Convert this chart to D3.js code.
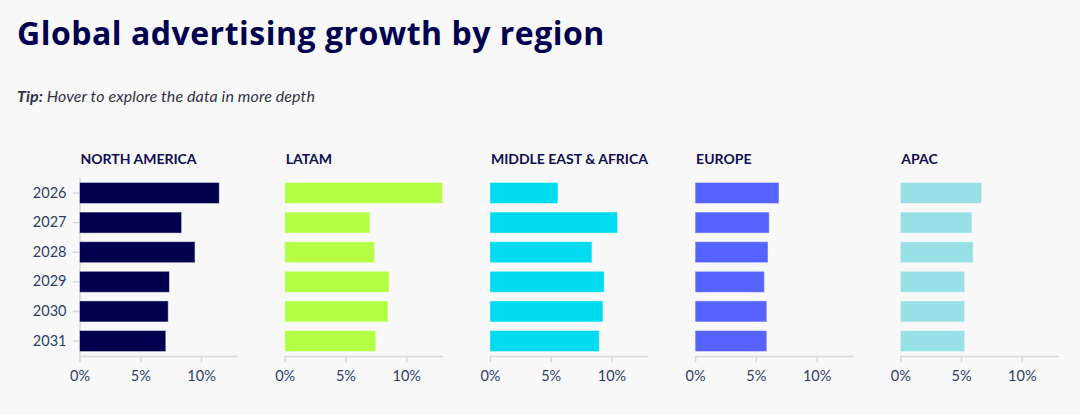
<!DOCTYPE html>
<html>
<head>
<meta charset="utf-8">
<script src="https://cdn.jsdelivr.net/npm/d3@7"></script>
<style>
  body { margin: 0; background: #f8f8f8; }
  svg { display: block; font-family: Lato, "Noto Sans", sans-serif; }
</style>
</head>
<body>
<div id="container"></div>
<script>
const width = 1080;
const height = 415;

const years = ["2026", "2027", "2028", "2029", "2030", "2031"];
const regions = ["NORTH AMERICA", "LATAM", "MIDDLE EAST & AFRICA", "EUROPE", "APAC"];
const northAmerica = [11.5, 8.4, 9.5, 7.4, 7.3, 7.1];
const latam = [13.0, 7.0, 7.4, 8.6, 8.5, 7.5];
const middleEastAfrica = [5.6, 10.5, 8.4, 9.4, 9.3, 9.0];
const europe = [6.9, 6.1, 6.0, 5.7, 5.9, 5.9];
const apac = [6.7, 5.9, 6.0, 5.3, 5.3, 5.3];
const xTicks = [0, 5, 10];
const colors = ["#00004f", "#b4ff46", "#00dcef", "#5563ff", "#98e0e5"];

const seriesList = [northAmerica, latam, middleEastAfrica, europe, apac];

const panelX = d3.scalePoint()
  .domain(regions)
  .range([79.5, 900.3]);

const x = d3.scaleLinear()
  .domain([0, 13])
  .range([0, 158]);

const y = d3.scaleBand()
  .domain(years)
  .range([178, 356])
  .paddingInner(0.29)
  .paddingOuter(0.15);

const svg = d3.create("svg")
  .attr("width", width)
  .attr("height", height)
  .attr("viewBox", [0, 0, width, height]);

svg.append("rect")
  .attr("width", width)
  .attr("height", height)
  .attr("fill", "#f8f8f8");

svg.append("text")
  .attr("x", 17)
  .attr("y", 45)
  .attr("fill", "#00004f")
  .attr("font-family", "'Open Sans', sans-serif")
  .attr("font-size", 32)
  .attr("font-weight", 700)
  .attr("letter-spacing", 0.5)
  .text("Global advertising growth by region");

const tip = svg.append("text")
  .attr("x", 17)
  .attr("y", 102)
  .attr("fill", "#333344")
  .attr("font-size", 16)
  .attr("font-style", "italic")
  .attr("letter-spacing", 0.1);
tip.append("tspan").attr("font-weight", 700).text("Tip:");
tip.append("tspan").text(" Hover to explore the data in more depth");

regions.forEach((region, i) => {
  const values = seriesList[i];
  const g = svg.append("g")
    .attr("transform", `translate(${panelX(region)},0)`);

  g.append("text")
    .attr("x", 1)
    .attr("y", 164)
    .attr("fill", "#0d0d4f")
    .attr("font-size", 14)
    .attr("font-weight", 700)
    .text(region);

  // bottom axis
  g.append("g")
    .attr("transform", `translate(0,${y.range()[1]})`)
    .call(d3.axisBottom(x).tickValues(xTicks).tickFormat(d => d + "%").tickSize(6).tickSizeOuter(0).tickPadding(9))
    .call(a => a.select(".domain").attr("stroke", "#d8d8dc").attr("stroke-width", 1.5))
    .call(a => a.selectAll(".tick line").attr("stroke", "#d8d8dc").attr("stroke-width", 1.5))
    .call(a => a.selectAll(".tick text").attr("fill", "#2e3d63").attr("font-size", 14.5).attr("font-family", "Lato, 'Noto Sans', sans-serif"));

  if (i === 0) {
    g.append("g")
      .call(d3.axisLeft(y).tickSize(7).tickSizeOuter(0).tickPadding(6))
      .call(a => a.select(".domain").attr("stroke", "#d8d8dc").attr("stroke-width", 1.5))
      .call(a => a.selectAll(".tick line").attr("stroke", "#d8d8dc").attr("stroke-width", 1.5))
      .call(a => a.selectAll(".tick text").attr("fill", "#2e3d63").attr("font-size", 14.5).attr("font-family", "Lato, 'Noto Sans', sans-serif"));
  }

  g.append("g")
    .selectAll("rect")
    .data(values)
    .join("rect")
      .attr("x", x(0))
      .attr("y", (d, j) => y(years[j]))
      .attr("width", d => x(d) - x(0))
      .attr("height", y.bandwidth())
      .attr("fill", colors[i])
      .attr("stroke", "rgba(255,255,255,0.45)")
      .attr("stroke-width", 1);
});

document.getElementById("container").appendChild(svg.node());
</script>
</body>
</html>
